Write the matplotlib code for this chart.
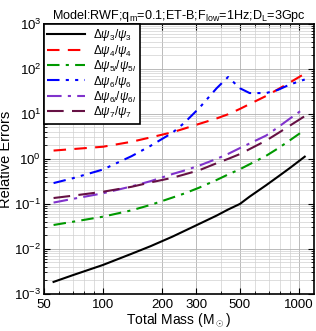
import matplotlib
matplotlib.use('Agg')
import matplotlib.pyplot as plt
from matplotlib.ticker import FixedLocator, NullFormatter, LogLocator

plt.rcParams['font.family'] = ['Liberation Sans', 'DejaVu Sans']
plt.rcParams['mathtext.fontset'] = 'custom'
plt.rcParams['mathtext.rm'] = 'Liberation Sans'
plt.rcParams['mathtext.it'] = 'Liberation Sans:italic'

# total mass grid (solar masses)
mass = [56, 70, 100, 140, 175, 226, 260, 310, 380, 435, 500, 560, 680, 780, 900, 1070]

err_psi3 = [1.85e-3, 2.6e-3, 4.4e-3, 7.8e-3, 0.0115, 0.0187, 0.025, 0.036, 0.055, 0.075,
            0.10, 0.145, 0.26, 0.40, 0.63, 1.12]
err_psi4 = [1.53, 1.65, 1.86, 2.4, 3.0, 3.9, 4.7, 6.0, 7.9, 9.8, 12.9, 16.5, 25, 35, 50, 78]
err_psi5l = [0.034, 0.040, 0.052, 0.072, 0.095, 0.138, 0.17, 0.23, 0.34, 0.45, 0.59, 0.76,
             1.17, 1.7, 2.6, 4.4]
err_psi6 = [0.29, 0.37, 0.58, 1.15, 1.95, 3.8, 6.3, 13.5, 37, 66, 37, 29, 29, 34, 45, 58]
err_psi6l = [0.107, 0.129, 0.172, 0.245, 0.32, 0.46, 0.55, 0.71, 1.0, 1.29, 1.74, 2.2,
             3.3, 5.0, 7.9, 13.5]
err_psi7 = [0.135, 0.152, 0.186, 0.24, 0.30, 0.38, 0.45, 0.56, 0.80, 1.0, 1.28, 1.65,
            2.55, 3.7, 5.5, 8.9]

labels = [r'$\Delta\psi_3/\psi_3$', r'$\Delta\psi_4/\psi_4$', r'$\Delta\psi_{5l}/\psi_{5l}$',
          r'$\Delta\psi_6/\psi_6$', r'$\Delta\psi_{6l}/\psi_{6l}$', r'$\Delta\psi_7/\psi_7$']

xticks = [50, 100, 200, 300, 500, 1000]

fig = plt.figure(figsize=(3.16, 3.31), dpi=100)
ax = fig.add_axes([0.139, 0.112, 0.854, 0.816])

lw = 1.5
ax.plot(mass, err_psi3, '-', color='black', lw=lw, label=labels[0])
ax.plot(mass, err_psi4, color='#ff0000', lw=lw, dashes=(6, 4), label=labels[1])
ax.plot(mass, err_psi5l, color='#009900', lw=lw, dashes=(6, 3, 1.5, 3), label=labels[2])
ax.plot(mass, err_psi6, color='#0000ff', lw=lw, dashes=(6, 3, 1.5, 3, 1.5, 3), label=labels[3])
ax.plot(mass, err_psi6l, color='#8033cc', lw=lw, dashes=(7, 3, 1.5, 3), label=labels[4])
ax.plot(mass, err_psi7, color='#661144', lw=lw, dashes=(8, 4), label=labels[5])

ax.set_xscale('log')
ax.set_yscale('log')
ax.set_xlim(50, 1190)
ax.set_ylim(1e-3, 1e3)

ax.xaxis.set_major_locator(FixedLocator(xticks))
ax.xaxis.set_major_formatter(plt.FixedFormatter([str(t) for t in xticks]))
ax.xaxis.set_minor_locator(LogLocator(base=10, subs=range(1, 10), numticks=20))
ax.xaxis.set_minor_formatter(NullFormatter())
ax.yaxis.set_major_locator(LogLocator(base=10, numticks=10))
ax.yaxis.set_minor_locator(LogLocator(base=10, subs=range(2, 10), numticks=20))
ax.yaxis.set_minor_formatter(NullFormatter())

ax.grid(True, which='major', color='#b0b0b0', lw=0.6)
ax.grid(True, which='minor', color='#d0d0d0', lw=0.5)
ax.tick_params(which='both', direction='in', top=True, right=True, labelsize=9.5)
ax.tick_params(axis='x', pad=4)
ax.tick_params(axis='y', pad=2)
ax.tick_params(which='major', length=4)
ax.tick_params(which='minor', length=2)
for s in ax.spines.values():
    s.set_linewidth(1.2)

ax.set_xlabel(r'Total Mass (M$_\odot$)', fontsize=10, labelpad=0)
ax.set_ylabel('Relative Errors', fontsize=10.5, labelpad=1)
ax.set_title(r'Model:RWF;q$_{\rm m}$=0.1;ET-B;F$_{\rm low}$=1Hz;D$_{\rm L}$=3Gpc',
             fontsize=9.1, pad=3)

leg = ax.legend(loc='upper left', fontsize=8.4, frameon=True, fancybox=False,
                edgecolor='black', borderaxespad=0, handlelength=3.2,
                labelspacing=-0.05, borderpad=0.3, handletextpad=0.7)
leg.get_frame().set_linewidth(1.2)
leg.get_frame().set_alpha(1)

fig.savefig('out.png', dpi=100)
